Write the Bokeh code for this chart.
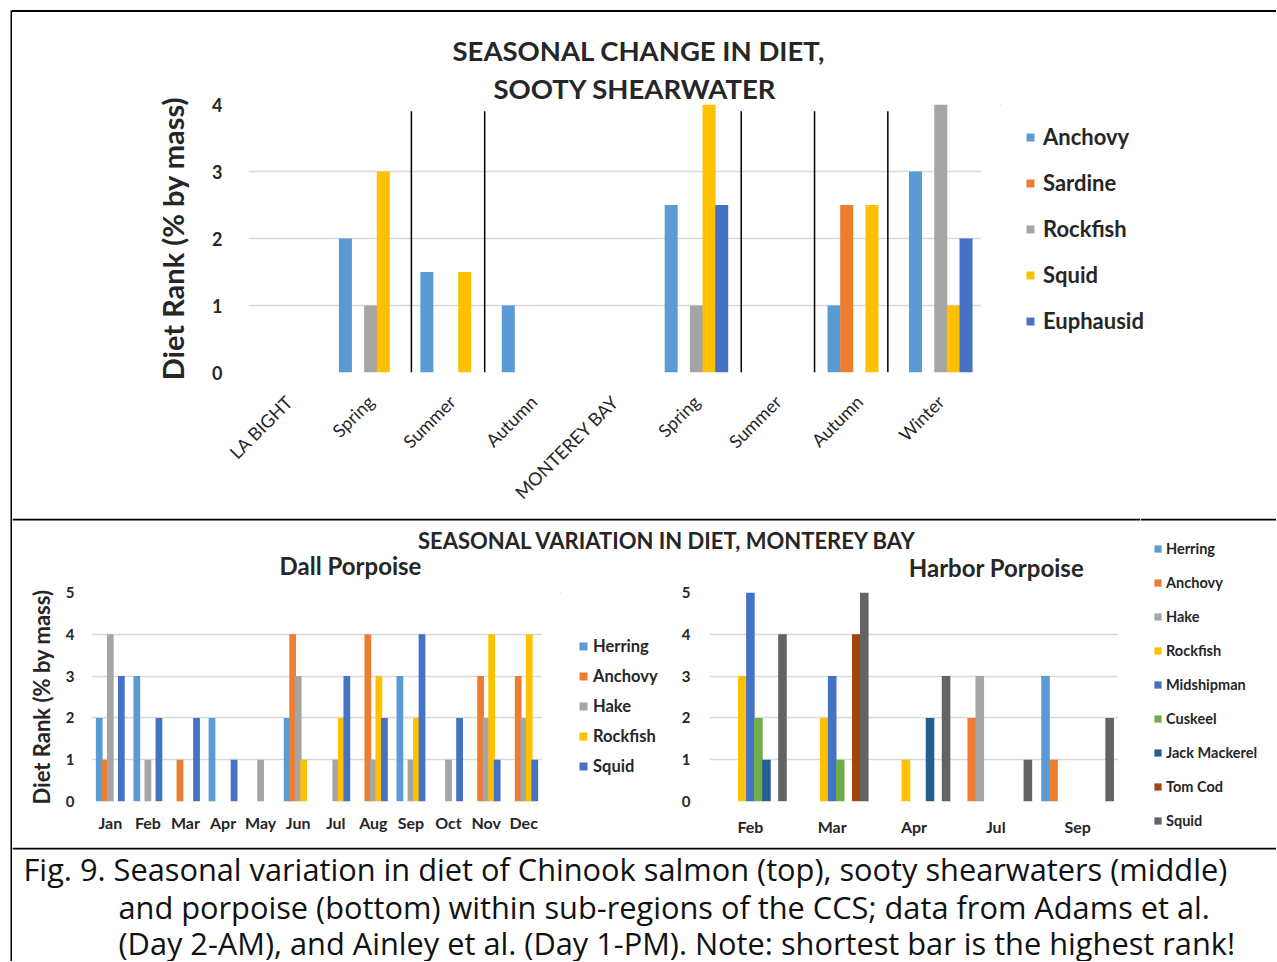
import math
from bokeh.plotting import figure
from bokeh.models import (ColumnDataSource, Range1d, FactorRange, FixedTicker, Legend,
                          LegendItem, Label, Spacer, Title)
from bokeh.transform import dodge
from bokeh.layouts import column, row
from bokeh.embed import file_html
from bokeh.resources import INLINE

FONT = "Lato"
CAP_FONT = "Open Sans"
TXT = "#262626"
GRID = "#d9d9d9"

# ---------------- data: top chart (sooty shearwater) ----------------
top_categories = ["LA BIGHT", "Spring", "Summer", "Autumn", "MONTEREY BAY",
                  "Spring", "Summer", "Autumn", "Winter"]
top_series = ["Anchovy", "Sardine", "Rockfish", "Squid", "Euphausid"]
top_anchovy = [0, 2, 1.5, 1, 0, 2.5, 0, 1, 3]
top_sardine = [0, 0, 0, 0, 0, 0, 0, 2.5, 0]
top_rockfish = [0, 1, 0, 0, 0, 1, 0, 0, 4]
top_squid = [0, 3, 1.5, 0, 0, 4, 0, 2.5, 1]
top_euphausid = [0, 0, 0, 0, 0, 2.5, 0, 0, 2]
top_colors = ["#5B9BD5", "#ED7D31", "#A5A5A5", "#FFC000", "#4472C4"]
top_y_ticks = [0, 1, 2, 3, 4]
top_separators = [1.5, 2.4, 5.55, 6.45, 7.35]

# ---------------- data: Dall porpoise ----------------
dall_months = ["Jan", "Feb", "Mar", "Apr", "May", "Jun", "Jul", "Aug", "Sep", "Oct", "Nov", "Dec"]
dall_series = ["Herring", "Anchovy", "Hake", "Rockfish", "Squid"]
dall_herring = [2, 3, 0, 2, 0, 2, 0, 0, 3, 0, 0, 0]
dall_anchovy = [1, 0, 1, 0, 0, 4, 0, 4, 0, 0, 3, 3]
dall_hake = [4, 1, 0, 0, 1, 3, 1, 1, 1, 1, 2, 2]
dall_rockfish = [0, 0, 0, 0, 0, 1, 2, 3, 2, 0, 4, 4]
dall_squid = [3, 2, 2, 1, 0, 0, 3, 2, 4, 2, 1, 1]
dall_colors = ["#5B9BD5", "#ED7D31", "#A5A5A5", "#FFC000", "#4472C4"]

# ---------------- data: Harbor porpoise ----------------
harbor_months = ["Feb", "Mar", "Apr", "Jul", "Sep"]
harbor_series = ["Herring", "Anchovy", "Hake", "Rockfish", "Midshipman", "Cuskeel",
                 "Jack Mackerel", "Tom Cod", "Squid"]
harbor_herring = [0, 0, 0, 0, 3]
harbor_anchovy = [0, 0, 0, 2, 1]
harbor_hake = [0, 0, 0, 3, 0]
harbor_rockfish = [3, 2, 1, 0, 0]
harbor_midshipman = [5, 3, 0, 0, 0]
harbor_cuskeel = [2, 1, 0, 0, 0]
harbor_jack_mackerel = [1, 0, 2, 0, 0]
harbor_tom_cod = [0, 4, 0, 0, 0]
harbor_squid = [4, 5, 3, 1, 2]
harbor_colors = ["#5B9BD5", "#ED7D31", "#A5A5A5", "#FFC000", "#4472C4", "#70AD47",
                 "#255E91", "#9E480E", "#636363"]
bottom_y_ticks = [0, 1, 2, 3, 4, 5]

top_title = ["SEASONAL  CHANGE IN DIET,", "SOOTY SHEARWATER"]
bottom_title = "SEASONAL VARIATION IN DIET, MONTEREY BAY"
caption_lines = [
    "Fig. 9. Seasonal variation in diet of Chinook salmon (top), sooty shearwaters (middle)",
    "and porpoise (bottom) within sub-regions of the CCS; data from Adams et al.",
    "(Day 2-AM), and Ainley et al. (Day 1-PM). Note: shortest bar is the highest rank!",
]

COMMON = dict(output_backend="svg", toolbar_location=None, title=None)


def chart_fig(w, h, xr, yr, ml, mr, mt, mb):
    p = figure(width=w, height=h, x_range=xr, y_range=yr, min_border_left=ml,
               min_border_right=mr, min_border_top=mt, min_border_bottom=mb, **COMMON)
    p.outline_line_color = None
    p.border_fill_color = "white"
    p.xgrid.grid_line_color = None
    p.ygrid.grid_line_color = GRID
    p.ygrid.grid_line_width = 1.3
    for ax in (p.xaxis[0], p.yaxis[0]):
        ax.axis_line_color = None
        ax.major_tick_line_color = None
        ax.minor_tick_line_color = None
        ax.major_label_text_font = FONT
        ax.major_label_text_color = TXT
        ax.major_label_text_font_style = "bold"
        ax.axis_label_text_font = FONT
        ax.axis_label_text_color = TXT
        ax.axis_label_text_font_style = "bold"
    return p


def blank_fig(w, h, fill="white", mt=0, mb=0):
    p = figure(width=w, height=h, x_range=Range1d(0, w), y_range=Range1d(h - mb, mt),
               min_border_left=0, min_border_right=0, min_border_top=mt,
               min_border_bottom=mb, x_axis_type=None, y_axis_type=None, **COMMON)
    p.outline_line_color = None
    p.background_fill_color = fill
    p.border_fill_color = fill
    return p


def rule(p, x0, x1, y0, y1):
    p.quad(left=[x0], right=[x1], top=[y0], bottom=[y1], fill_color="black", line_color=None)


def text(p, x, y, s, size, bold=True, align="center", color=TXT, font=FONT):
    p.add_layout(Label(x=x, y=y, text=s, text_font=font, text_font_size=f"{size}px",
                       text_font_style="bold" if bold else "normal",
                       text_color=color, text_align=align, text_baseline="middle"))


def bars(p, xcol, cats, names, vals, colors, slot, width, rng):
    data = {xcol: cats}
    for n, v in zip(names, vals):
        data[n] = v
    src = ColumnDataSource(data)
    k = len(names)
    for i, (n, c) in enumerate(zip(names, colors)):
        off = (i - (k - 1) / 2) * slot
        x = dodge(xcol, off, range=rng) if rng is not None else dodge(xcol, off)
        p.vbar(x=x, top=n, width=width, source=src, fill_color=c, line_color=None)


def add_legend(p, names, colors, loc, size, gw, lh, spacing, standoff):
    items = []
    for n, c in zip(names, colors):
        r = p.vbar(x=[-500], top=[0], width=1, fill_color=c, line_color=None)
        items.append(LegendItem(label=n, renderers=[r]))
    p.add_layout(Legend(items=items, location=loc, orientation="vertical", padding=0,
                        margin=0, spacing=spacing, label_standoff=standoff,
                        glyph_width=gw, glyph_height=gw, label_height=lh,
                        label_text_font=FONT, label_text_font_size=f"{size}px",
                        label_text_font_style="bold", label_text_color=TXT,
                        border_line_color=None, background_fill_alpha=0))


# ======================= TOP BLOCK (page y 12..518) =======================
top = chart_fig(988, 506, Range1d(-0.5, 8.5), Range1d(0, 4), 236, 19, 92, 146)
top_idx = list(range(len(top_categories)))
top_vals = [top_anchovy, top_sardine, top_rockfish, top_squid, top_euphausid]
bars(top, "x", top_idx, top_series, top_vals, top_colors, 0.155, 0.16, None)
top.segment(x0=top_separators, x1=top_separators, y0=[0] * len(top_separators),
            y1=[3.9] * len(top_separators), line_color="black", line_width=1.5)
top.yaxis.ticker = FixedTicker(ticks=top_y_ticks)
top.yaxis.major_label_text_font_size = "18px"
top.yaxis.major_label_standoff = 20
top.yaxis.axis_label = "Diet Rank (% by mass)"
top.yaxis.axis_label_text_font_size = "29px"
top.yaxis.axis_label_standoff = 19
top.xaxis.ticker = FixedTicker(ticks=top_idx)
top.xaxis.major_label_overrides = {i: c for i, c in enumerate(top_categories)}
top.xaxis.major_label_orientation = math.pi / 4
top.xaxis.major_label_text_font_size = "18px"
top.xaxis.major_label_text_font_style = "normal"
top.xaxis.major_label_standoff = 20
# two title lines in the panel above the frame (first added sits nearest the frame)
for line, off, so in ((top_title[1], 245, 0), (top_title[0], 204, 6)):
    top.add_layout(Title(text=line, align="left", offset=off, standoff=so,
                         text_font=FONT, text_font_size="27.5px", text_font_style="bold",
                         text_color=TXT), "above")

top_leg = blank_fig(276, 506, mt=92, mb=146)
add_legend(top_leg, top_series, top_colors, (25, 38), 22, 10, 27, 19, 8)

top_block = row(top, top_leg)

# ======================= BOTTOM BLOCK (page y 518..847) =======================
strip = blank_fig(1128, 64)
rule(strip, 0, 1128, 0, 2)
text(strip, 655, 22, bottom_title, 22)
text(strip, 338, 47, "Dall Porpoise", 24)
text(strip, 984, 49, "Harbor Porpoise", 24)

dall = chart_fig(548, 265, FactorRange(*dall_months), Range1d(0, 5), 79, 18, 10, 46)
dall_vals = [dall_herring, dall_anchovy, dall_hake, dall_rockfish, dall_squid]
bars(dall, "month", dall_months, dall_series, dall_vals, dall_colors, 0.147, 0.18,
     dall.x_range)
dall.yaxis.ticker = FixedTicker(ticks=bottom_y_ticks)
dall.yaxis.major_label_text_font_size = "15px"
dall.yaxis.major_label_standoff = 11
dall.yaxis.axis_label = "Diet Rank (% by mass)"
dall.yaxis.axis_label_text_font_size = "22px"
dall.yaxis.axis_label_standoff = 8
dall.xaxis.major_label_text_font_size = "16px"
dall.xaxis.major_label_standoff = 5

dall_leg = blank_fig(115, 265, mt=10, mb=46)
add_legend(dall_leg, dall_series, dall_colors, (18, 25), 16.5, 10, 20, 10, 5)

harbor = chart_fig(465, 265, FactorRange(*harbor_months), Range1d(0, 5), 34, 22, 10, 46)
harbor_vals = [harbor_herring, harbor_anchovy, harbor_hake, harbor_rockfish,
               harbor_midshipman, harbor_cuskeel, harbor_jack_mackerel, harbor_tom_cod,
               harbor_squid]
bars(harbor, "month", harbor_months, harbor_series, harbor_vals, harbor_colors,
     0.098, 0.105, harbor.x_range)
harbor.yaxis.ticker = FixedTicker(ticks=bottom_y_ticks)
harbor.yaxis.major_label_text_font_size = "15px"
harbor.yaxis.major_label_standoff = 13
harbor.xaxis.major_label_text_font_size = "16px"
harbor.xaxis.major_label_standoff = 9

harbor_leg = blank_fig(136, 329)
rule(harbor_leg, 0, 136, 0, 2)
add_legend(harbor_leg, harbor_series, harbor_colors, (13, 18), 14.5, 9, 18, 16, 4)

bottom_block = row(column(strip, row(dall, dall_leg, harbor)), harbor_leg)

# ======================= CAPTION (page y 847..961) =======================
cap = blank_fig(1264, 114)
rule(cap, 0, 1264, 0, 2)
text(cap, 11, 21, caption_lines[0], 30.75, bold=False, align="left", color="#111111", font=CAP_FONT)
text(cap, 106, 59, caption_lines[1], 30.75, bold=False, align="left", color="#111111", font=CAP_FONT)
text(cap, 106, 95, caption_lines[2], 30.75, bold=False, align="left", color="#111111", font=CAP_FONT)

# ======================= ASSEMBLY =======================
top_rule = Spacer(width=1264, height=2, styles={"background-color": "black"})
left_rule = column(Spacer(width=2, height=10), blank_fig(2, 951, "black"))
main_col = column(Spacer(width=1264, height=10), top_rule, top_block, bottom_block, row(cap))
layout = row(Spacer(width=10, height=961), left_rule, main_col)
open("out.html", "w").write(file_html(layout, INLINE))
